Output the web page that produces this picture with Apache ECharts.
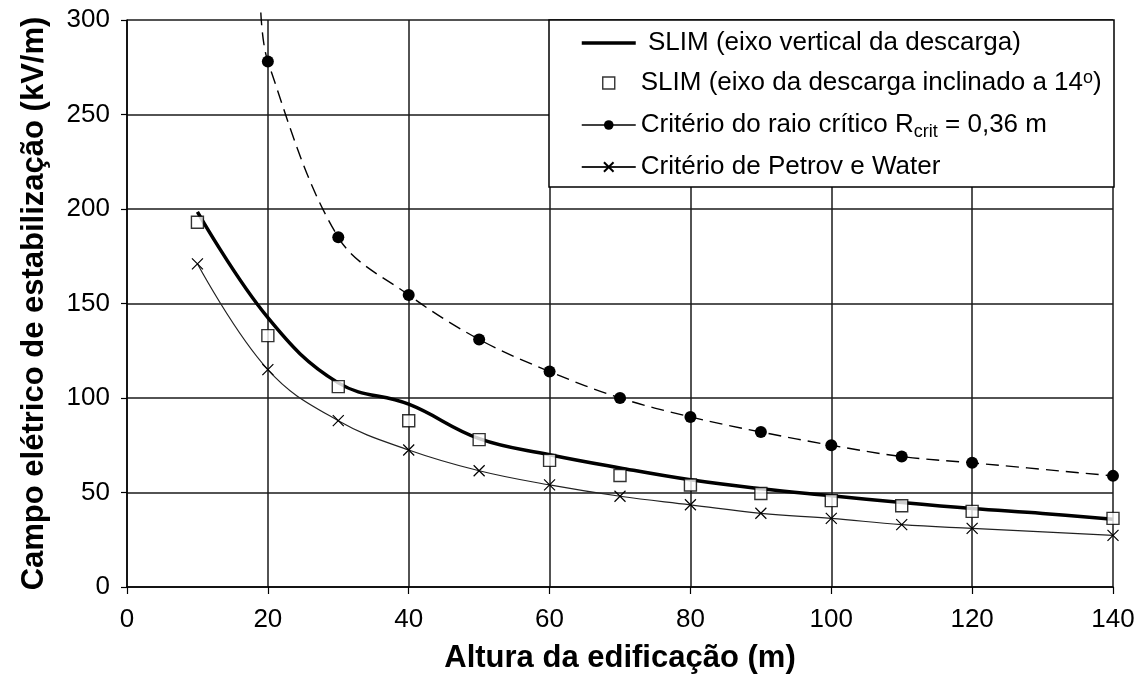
<!DOCTYPE html>
<html>
<head>
<meta charset="utf-8">
<script src="https://cdn.jsdelivr.net/npm/echarts@6/dist/echarts.min.js"></script>
<style>
  html, body { margin: 0; padding: 0; background: #fff; }
  #chart { width: 1142px; height: 679px; }
</style>
</head>
<body>
<div id="chart"></div>
<script>
// Building height (m) for each curve
const heightsVert = [10, 20, 30, 40, 50, 60, 70, 80, 90, 100, 110, 120, 130, 140];
const heightsPts = [10, 20, 30, 40, 50, 60, 70, 80, 90, 100, 110, 120, 140];
const heightsCrit = [20, 30, 40, 50, 60, 70, 80, 90, 100, 110, 120, 140];

// Stabilization field (kV/m)
const slimVertical = [198.5, 142.5, 108, 96.7, 78.5, 70, 63, 56.7, 52, 48.3, 44.7, 41.5, 38.9, 35.8];
const slimInclined = [193, 133, 106, 88, 78, 67, 59, 54, 49.5, 45.7, 43, 40, 36.3];
const criticalRadius = [278, 185, 154.5, 131, 114, 100, 90, 82, 75, 69, 65.7, 58.8];
const criticalRadiusStart = [19, 304];
const petrovWater = [171, 115, 88, 72.5, 61.5, 54, 48, 43.5, 39, 36.3, 33, 31, 27.3];

// Axis ticks
const xTicks = { min: 0, max: 140, step: 20 };
const yTicks = { min: 0, max: 300, step: 50 };

const names = [
  'SLIM (eixo vertical da descarga)',
  'SLIM (eixo da descarga inclinado a 14º)',
  'Critério do raio crítico Rcrit = 0,36 m',
  'Critério de Petrov e Water'
];

const pair = (xs, ys) => xs.map((x, i) => [x, ys[i]]);

const FONT = '"Liberation Sans", Arial, sans-serif';
const crossPath = 'path://M0,0L10,10M10,0L0,10';
const squarePath = 'path://M0,0L10,0L10,10L0,10Z';

const chart = echarts.init(document.getElementById('chart'), null, { renderer: 'canvas' });

chart.setOption({
  animation: false,
  backgroundColor: '#fff',
  grid: { left: 127, right: 29, top: 20, bottom: 88, containLabel: false },
  xAxis: {
    type: 'value',
    min: xTicks.min, max: xTicks.max, interval: xTicks.step,
    name: 'Altura da edificação (m)',
    nameLocation: 'middle',
    nameGap: 56,
    nameTextStyle: { fontFamily: FONT, fontSize: 31, fontWeight: 'bold', color: '#000' },
    axisLine: { show: true, lineStyle: { color: '#000', width: 1.5 } },
    axisTick: { show: true, inside: false, length: 7, lineStyle: { color: '#000', width: 1.2 } },
    axisLabel: { fontFamily: FONT, fontSize: 26, color: '#000', margin: 20 },
    splitLine: { show: true, lineStyle: { color: '#1a1a1a', width: 1.5 } }
  },
  yAxis: {
    type: 'value',
    min: yTicks.min, max: yTicks.max, interval: yTicks.step,
    name: 'Campo elétrico de estabilização (kV/m)',
    nameLocation: 'middle',
    nameGap: 77,
    nameTextStyle: { fontFamily: FONT, fontSize: 31, fontWeight: 'bold', color: '#000' },
    axisLine: { show: true, lineStyle: { color: '#000', width: 1.5 } },
    axisTick: { show: true, inside: false, length: 6, lineStyle: { color: '#000', width: 1.2 } },
    axisLabel: { fontFamily: FONT, fontSize: 26, color: '#000', margin: 17 },
    splitLine: { show: true, lineStyle: { color: '#1a1a1a', width: 1.5 } }
  },
  graphic: [{
    type: 'rect',
    z: 3,
    shape: { x: 549, y: 20, width: 565, height: 167 },
    style: { fill: '#fff', stroke: '#000', lineWidth: 1.5 }
  }],
  legend: {
    z: 10,
    orient: 'vertical',
    left: 580,
    top: 29,
    padding: 0,
    itemWidth: 54,
    itemHeight: 12,
    itemGap: 12,
    symbolKeepAspect: true,
    textStyle: {
      fontFamily: FONT, fontSize: 26, color: '#000', lineHeight: 28,
      rich: {
        sub: { fontFamily: FONT, fontSize: 18, color: '#000', lineHeight: 28, padding: [14, 0, 0, 0] },
        sup: { fontFamily: FONT, fontSize: 18, color: '#000', lineHeight: 28, padding: [0, 0, 10, 0] }
      }
    },
    formatter: function (n) {
      if (n === names[0]) return ' ' + n;
      if (n === names[1]) return 'SLIM (eixo da descarga inclinado a 14{sup|o})';
      if (n === names[2]) return 'Critério do raio crítico R{sub|crit} = 0,36 m';
      return n;
    },
    data: [
      { name: names[0], itemStyle: { opacity: 0 }, lineStyle: { width: 3.5 } },
      { name: names[1], icon: squarePath, itemStyle: { color: '#fff', borderColor: '#000', borderWidth: 1.4 } },
      { name: names[2], lineStyle: { type: 'solid', width: 1.5 } },
      { name: names[3] }
    ]
  },
  series: [
    {
      name: names[0],
      type: 'line',
      data: pair(heightsVert, slimVertical),
      smooth: 0.4,
      showSymbol: false,
      symbol: 'none',
      lineStyle: { color: '#000', width: 3.5 },
      itemStyle: { color: '#000' },
      z: 4
    },
    {
      name: names[1],
      type: 'scatter',
      data: pair(heightsPts, slimInclined),
      symbol: 'rect',
      symbolSize: 12,
      itemStyle: { color: '#fff', borderColor: '#000', borderWidth: 1.4 },
      z: 6
    },
    {
      name: names[2],
      type: 'line',
      clip: false,
      data: [{ value: criticalRadiusStart, symbol: 'none' }].concat(pair(heightsCrit, criticalRadius)),
      smooth: 0.35,
      symbol: 'circle',
      symbolSize: 12,
      showAllSymbol: true,
      lineStyle: { color: '#000', width: 1.4, type: [13, 7] },
      itemStyle: { color: '#000' },
      z: 5
    },
    {
      name: names[3],
      type: 'line',
      data: pair(heightsPts, petrovWater),
      smooth: 0.4,
      symbol: crossPath,
      symbolSize: 11,
      showAllSymbol: true,
      lineStyle: { color: '#222', width: 1.2 },
      itemStyle: { color: '#000', borderColor: '#000', borderWidth: 1.2 },
      z: 5
    }
  ]
});
</script>
</body>
</html>
